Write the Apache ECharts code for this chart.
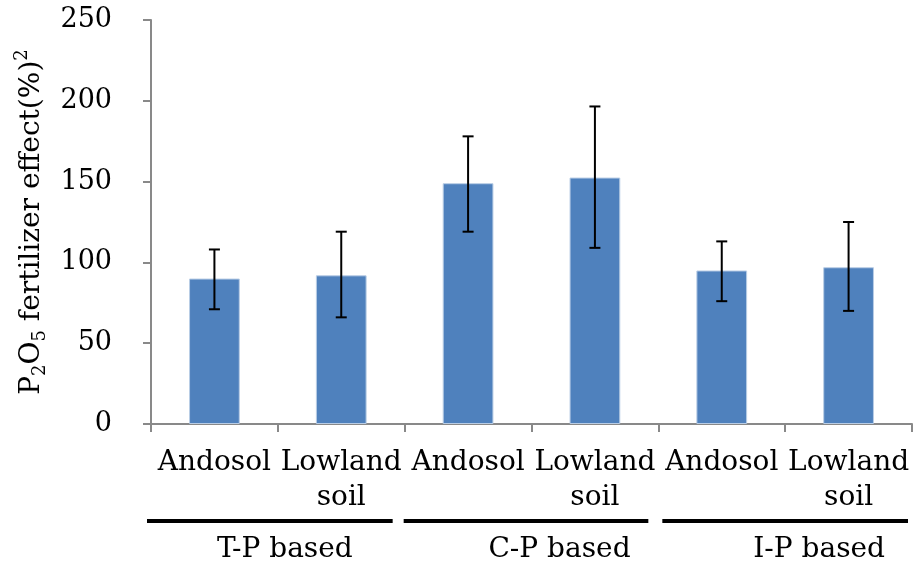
<!DOCTYPE html>
<html>
<head>
<meta charset="utf-8">
<script src="https://cdn.jsdelivr.net/npm/echarts@6/dist/echarts.min.js"></script>
<style>html,body{margin:0;padding:0;background:#fff;}#c{width:916px;height:568px;}</style>
</head>
<body>
<div id="c"></div>
<script>
var categories = ['Andosol', 'Lowland\nsoil', 'Andosol', 'Lowland\nsoil', 'Andosol', 'Lowland\nsoil'];
var values = [90, 92, 149, 152.5, 95, 97];
var errLow = [71, 66, 119, 109, 76, 70];
var errHigh = [108, 119, 178, 196.5, 113, 125];
var groupLabels = ['T-P based', 'C-P based', 'I-P based'];
var groupSize = 2;
var yTicks = [0, 50, 100, 150, 200, 250];

var FONT = 'DejaVu Serif';
var chart = echarts.init(document.getElementById('c'), null, {renderer: 'canvas'});

var errData = categories.map(function (c, i) { return [i, errLow[i], errHigh[i]]; });

chart.setOption({
  animation: false,
  backgroundColor: '#ffffff',
  grid: {left: 151, right: 4, top: 20, bottom: 144, containLabel: false},
  xAxis: {
    type: 'category',
    data: categories,
    boundaryGap: true,
    axisLine: {show: true, lineStyle: {color: '#898989', width: 2}},
    axisTick: {show: true, length: 8, interval: 0, lineStyle: {color: '#898989', width: 2}},
    axisLabel: {interval: 0, color: '#000', fontFamily: FONT, fontSize: 28, lineHeight: 35, margin: 21, align: 'center'},
    splitLine: {show: false}
  },
  yAxis: {
    type: 'value',
    min: yTicks[0],
    max: yTicks[yTicks.length - 1],
    interval: 50,
    axisLine: {show: true, lineStyle: {color: '#898989', width: 2}},
    axisTick: {show: true, length: 8, lineStyle: {color: '#898989', width: 2}},
    axisLabel: {color: '#000', fontFamily: FONT, fontSize: 27, margin: 39},
    splitLine: {show: false},
    name: '{n|P}{s|2}{n|O}{s|5}{n| fertilizer effect(%)}{p|2}',
    nameLocation: 'middle',
    nameGap: 99,
    nameRotate: 90,
    nameTextStyle: {
      color: '#000',
      fontFamily: FONT,
      rich: {
        n: {fontSize: 28, fontFamily: FONT, color: '#000', lineHeight: 36},
        s: {fontSize: 18, fontFamily: FONT, color: '#000', lineHeight: 20, verticalAlign: 'bottom'},
        p: {fontSize: 18, fontFamily: FONT, color: '#000', lineHeight: 20, verticalAlign: 'top'}
      }
    }
  },
  series: [
    {
      type: 'bar',
      data: values,
      barWidth: '40%',
      itemStyle: {color: '#4F81BD', borderColor: '#B9CDE5', borderWidth: 1}
    },
    {
      type: 'custom',
      data: errData,
      z: 5,
      renderItem: function (params, api) {
        var x = api.value(0);
        var lo = api.coord([x, api.value(1)]);
        var hi = api.coord([x, api.value(2)]);
        var cap = 5.5;
        var st = {stroke: '#000', lineWidth: 2};
        return {
          type: 'group',
          children: [
            {type: 'line', shape: {x1: lo[0], y1: lo[1], x2: hi[0], y2: hi[1]}, style: st},
            {type: 'line', shape: {x1: hi[0] - cap, y1: hi[1], x2: hi[0] + cap, y2: hi[1]}, style: st},
            {type: 'line', shape: {x1: lo[0] - cap, y1: lo[1], x2: lo[0] + cap, y2: lo[1]}, style: st}
          ]
        };
      }
    }
  ]
});

// group annotation lines and labels under the category axis
var lineInset = [[-4, 12], [-1, 10], [4, 4]];
var labelShift = [7, 28, 34];
var elements = [];
for (var g = 0; g < groupLabels.length; g++) {
  var first = chart.convertToPixel({xAxisIndex: 0}, g * groupSize);
  var last = chart.convertToPixel({xAxisIndex: 0}, g * groupSize + groupSize - 1);
  var step = chart.convertToPixel({xAxisIndex: 0}, 1) - chart.convertToPixel({xAxisIndex: 0}, 0);
  var left = first - step / 2;
  var right = last + step / 2;
  var baseY = chart.convertToPixel({yAxisIndex: 0}, 0);
  elements.push({
    type: 'line',
    shape: {x1: left + lineInset[g][0], y1: baseY + 97, x2: right - lineInset[g][1], y2: baseY + 97},
    style: {stroke: '#000', lineWidth: 4}
  });
  elements.push({
    type: 'text',
    x: (left + right) / 2 + labelShift[g],
    y: baseY + 126,
    style: {text: groupLabels[g], fill: '#000', font: '28px "' + FONT + '"', textAlign: 'center', textVerticalAlign: 'middle'}
  });
}
chart.setOption({graphic: {elements: elements}});
</script>
</body>
</html>
